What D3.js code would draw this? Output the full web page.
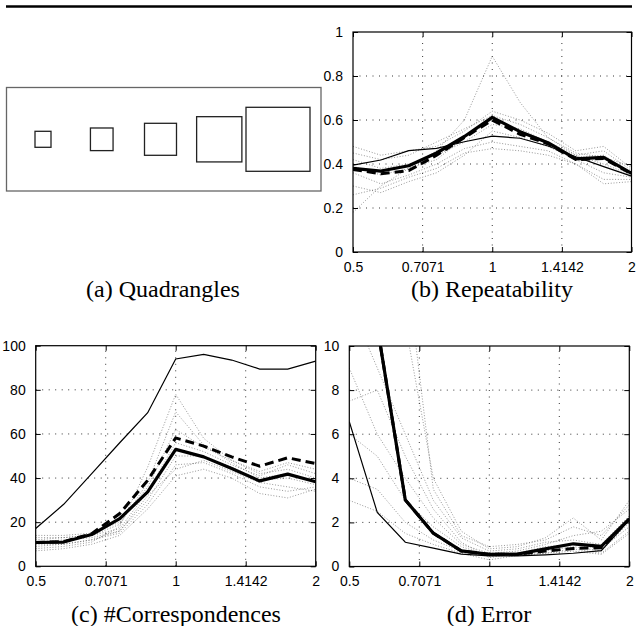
<!DOCTYPE html>
<html><head><meta charset="utf-8">
<script src="https://cdn.jsdelivr.net/npm/d3@7"></script>
<style>
html,body{margin:0;padding:0;background:#fff;}
svg{display:block;}
</style></head>
<body>
<svg id="fig" width="636" height="626"></svg>
<script>
// ---------- data ----------
const scales = [0.5, 0.5743, 0.6598, 0.7579, 0.8706, 1, 1.1487, 1.3195, 1.5157, 1.7411, 2];
const xTickValues = [0.5, 0.7071, 1, 1.4142, 2];
const xTickLabels = ["0.5", "0.7071", "1", "1.4142", "2"];

// (a) quadrangle relative sizes
const quadSizes = [1, 1.414, 2, 2.828, 4];

// (b) Repeatability
const repTicks = [0, 0.2, 0.4, 0.6, 0.8, 1];
const repThick  = [0.380, 0.368, 0.392, 0.450, 0.525, 0.612, 0.547, 0.497, 0.423, 0.430, 0.358];
const repDashed = [0.375, 0.356, 0.370, 0.440, 0.520, 0.600, 0.535, 0.492, 0.420, 0.425, 0.355];
const repThin   = [0.395, 0.418, 0.461, 0.471, 0.501, 0.527, 0.517, 0.482, 0.433, 0.388, 0.345];
const repDot1 = [0.18, 0.30, 0.38, 0.46, 0.60, 0.89, 0.68, 0.52, 0.44, 0.40, 0.35];
const repDot2 = [0.48, 0.44, 0.46, 0.48, 0.55, 0.64, 0.60, 0.54, 0.46, 0.48, 0.38];
const repDot3 = [0.30, 0.27, 0.32, 0.36, 0.44, 0.55, 0.52, 0.48, 0.42, 0.36, 0.34];
const repDot4 = [0.42, 0.38, 0.40, 0.44, 0.50, 0.58, 0.56, 0.50, 0.44, 0.46, 0.37];
const repDot5 = [0.36, 0.31, 0.35, 0.40, 0.47, 0.50, 0.48, 0.46, 0.40, 0.33, 0.33];
const repDot6 = [0.45, 0.42, 0.44, 0.50, 0.56, 0.62, 0.58, 0.52, 0.45, 0.43, 0.39];
const repDot7 = [0.26, 0.29, 0.34, 0.38, 0.45, 0.47, 0.46, 0.44, 0.40, 0.31, 0.32];
const repDot8 = [0.39, 0.35, 0.38, 0.42, 0.52, 0.60, 0.55, 0.50, 0.43, 0.44, 0.36];

// (c) #Correspondences
const corTicks = [0, 20, 40, 60, 80, 100];
const corThin   = [17.1, 28.1, 42.0, 56.0, 69.6, 94.0, 96.1, 93.5, 89.4, 89.4, 93.0];
const corDashed = [10.8, 11.2, 14.8, 23.9, 39.0, 58.2, 54.5, 49.6, 45.4, 49.2, 46.6];
const corThick  = [10.8, 11.0, 14.4, 21.6, 33.7, 53.0, 49.6, 44.3, 38.7, 41.8, 38.3];
const corDot1 = [8, 9, 11, 18, 45, 78, 58, 48, 42, 44, 40];
const corDot2 = [13, 13, 14, 19, 38, 70, 55, 47, 40, 42, 38];
const corDot3 = [7, 8, 10, 14, 26, 41, 44, 40, 33, 31, 35];
const corDot4 = [11, 12, 13, 16, 30, 50, 50, 45, 39, 40, 37];
const corDot5 = [10, 10, 12, 15, 28, 46, 47, 42, 36, 34, 36];
const corDot6 = [12, 13, 14, 17, 34, 56, 52, 46, 41, 46, 42];
const corDot7 = [9, 10, 12, 16, 32, 44, 48, 43, 38, 36, 34];
const corDot8 = [14, 14, 15, 20, 36, 62, 54, 48, 43, 47, 44];

// (d) Error
const errTicks = [0, 2, 4, 6, 8, 10];
const errThick  = [20, 10.9, 3.02, 1.51, 0.71, 0.55, 0.56, 0.80, 1.03, 0.91, 2.16];
const errDashed = [20, 10.9, 3.02, 1.51, 0.70, 0.55, 0.55, 0.70, 0.82, 0.85, 2.15];
const errThin   = [6.57, 2.45, 1.10, 0.83, 0.56, 0.48, 0.48, 0.53, 0.60, 0.72, 2.10];
const errDot1 = [14, 12, 11, 4.0, 1.6, 0.8, 0.9, 1.3, 2.2, 1.2, 3.0];
const errDot2 = [4.0, 3.5, 2.0, 1.2, 0.7, 0.45, 0.6, 0.7, 0.9, 0.7, 2.0];
const errDot3 = [9, 6, 4, 2.2, 1.0, 0.6, 0.7, 1.0, 1.4, 1.6, 2.6];
const errDot4 = [12, 9, 6, 3, 1.3, 0.7, 0.8, 1.1, 1.2, 1.0, 2.3];
const errDot5 = [6, 5, 3, 1.8, 0.9, 0.5, 0.5, 0.6, 0.8, 0.6, 1.6];
const errDot6 = [18, 15, 14, 3.5, 1.4, 0.9, 1.0, 1.2, 1.8, 1.4, 2.8];
const errDot7 = [7.5, 8, 5, 2.6, 1.1, 0.4, 0.6, 0.9, 1.0, 0.8, 1.8];
const errDot8 = [3, 2.5, 1.5, 1.0, 0.6, 0.3, 0.5, 0.6, 0.7, 0.55, 1.5];

const captions = ["(a) Quadrangles", "(b) Repeatability", "(c) #Correspondences", "(d) Error"];

// ---------- drawing ----------
const svg = d3.select("#fig");
const SANS = '"Liberation Sans", Arial, Helvetica, sans-serif';
const SERIF = '"Liberation Serif", "Times New Roman", Times, serif';

// top rule
svg.append("line").attr("x1", 6).attr("x2", 632).attr("y1", 6.5).attr("y2", 6.5)
  .attr("stroke", "#000").attr("stroke-width", 2.5);

// panel (a)
const ga = svg.append("g");
ga.append("rect").attr("x", 6.5).attr("y", 87.5).attr("width", 314.5).attr("height", 103.5)
  .attr("fill", "none").attr("stroke", "#666").attr("stroke-width", 1.3);
const qx = d3.scalePoint().domain(d3.range(quadSizes.length)).range([43, 278]);
const qs = d3.scaleLinear().domain([0, 1]).range([0, 16]);
ga.selectAll("rect.q").data(quadSizes).join("rect").attr("class", "q")
  .attr("x", (d, i) => qx(i) - qs(d) / 2).attr("y", d => 139.3 - qs(d) / 2)
  .attr("width", d => qs(d)).attr("height", d => qs(d))
  .attr("fill", "none").attr("stroke", "#222").attr("stroke-width", 1.3);

let clipId = 0;
function panel(cfg) {
  const g = svg.append("g");
  const x = d3.scaleLog().base(2).domain([0.5, 2]).range([cfg.x0, cfg.x1]);
  const y = d3.scaleLinear().domain(cfg.ydom).range([cfg.y0, cfg.y1]);
  const id = "clip" + (clipId++);
  svg.append("clipPath").attr("id", id).append("rect")
    .attr("x", cfg.x0).attr("y", cfg.y1).attr("width", cfg.x1 - cfg.x0).attr("height", cfg.y0 - cfg.y1);

  // grid
  const grid = g.append("g").attr("stroke", "#000").attr("stroke-width", 0.8)
    .attr("stroke-dasharray", "1,5.5");
  grid.selectAll("line.vx").data(xTickValues.slice(1, -1)).join("line")
    .attr("x1", d => x(d)).attr("x2", d => x(d)).attr("y1", cfg.y0).attr("y2", cfg.y1);
  grid.selectAll("line.hy").data(cfg.yticks.slice(1, -1)).join("line")
    .attr("y1", d => y(d)).attr("y2", d => y(d)).attr("x1", cfg.x0).attr("x2", cfg.x1);

  const plot = g.append("g").attr("clip-path", `url(#${id})`);
  const line = d3.line().x((d, i) => x(scales[i])).y(d => y(d));
  cfg.dots.forEach(s => {
    plot.append("path").attr("d", line(s)).attr("fill", "none")
      .attr("stroke", "#444").attr("stroke-width", 0.8).attr("stroke-dasharray", "1,1.8")
      .attr("opacity", 0.7);
  });
  plot.append("path").attr("d", line(cfg.thin)).attr("fill", "none")
    .attr("stroke", "#000").attr("stroke-width", 1.2);
  plot.append("path").attr("d", line(cfg.dashed)).attr("fill", "none")
    .attr("stroke", "#000").attr("stroke-width", 3).attr("stroke-dasharray", "9,5");
  plot.append("path").attr("d", line(cfg.thick)).attr("fill", "none")
    .attr("stroke", "#000").attr("stroke-width", 3.2).attr("stroke-linejoin", "round");

  // axes (inward ticks on all sides)
  const axB = d3.axisBottom(x).tickValues(xTickValues).tickFormat((d, i) => xTickLabels[i])
    .tickSizeInner(-5).tickSizeOuter(0).tickPadding(10);
  const axT = d3.axisTop(x).tickValues(xTickValues).tickFormat("").tickSizeInner(-5).tickSizeOuter(0);
  const axL = d3.axisLeft(y).tickValues(cfg.yticks).tickFormat(d3.format("~g"))
    .tickSizeInner(-5).tickSizeOuter(0).tickPadding(10);
  const axR = d3.axisRight(y).tickValues(cfg.yticks).tickFormat("").tickSizeInner(-5).tickSizeOuter(0);
  const style = sel => {
    sel.selectAll(".domain").remove();
    sel.selectAll(".tick line").attr("stroke", "#000").attr("stroke-width", 1);
    sel.selectAll(".tick text").attr("font-family", SANS).attr("font-size", 14).attr("fill", "#000");
  };
  g.append("g").attr("transform", `translate(0,${cfg.y0})`).call(axB).call(style);
  g.append("g").attr("transform", `translate(0,${cfg.y1})`).call(axT).call(style);
  g.append("g").attr("transform", `translate(${cfg.x0},0)`).call(axL).call(style);
  g.append("g").attr("transform", `translate(${cfg.x1},0)`).call(axR).call(style);
  g.append("rect").attr("x", cfg.x0).attr("y", cfg.y1).attr("width", cfg.x1 - cfg.x0)
    .attr("height", cfg.y0 - cfg.y1).attr("fill", "none").attr("stroke", "#000").attr("stroke-width", 1.2);
}

panel({x0: 353, x1: 631.5, y0: 252, y1: 32, ydom: [0, 1], yticks: repTicks,
  thin: repThin, dashed: repDashed, thick: repThick,
  dots: [repDot1, repDot2, repDot3, repDot4, repDot5, repDot6, repDot7, repDot8]});
panel({x0: 35.7, x1: 315.7, y0: 566.3, y1: 345.7, ydom: [0, 100], yticks: corTicks,
  thin: corThin, dashed: corDashed, thick: corThick,
  dots: [corDot1, corDot2, corDot3, corDot4, corDot5, corDot6, corDot7, corDot8]});
panel({x0: 349.3, x1: 629.3, y0: 566.5, y1: 346, ydom: [0, 10], yticks: errTicks,
  thin: errThin, dashed: errDashed, thick: errThick,
  dots: [errDot1, errDot2, errDot3, errDot4, errDot5, errDot6, errDot7, errDot8]});

// captions
const capPos = [[163, 297], [492, 297], [176, 622], [489, 622]];
svg.selectAll("text.cap").data(captions).join("text").attr("class", "cap")
  .attr("x", (d, i) => capPos[i][0]).attr("y", (d, i) => capPos[i][1])
  .attr("text-anchor", "middle").attr("font-family", SERIF).attr("font-size", 24)
  .attr("fill", "#000").text(d => d);
</script>
</body></html>
